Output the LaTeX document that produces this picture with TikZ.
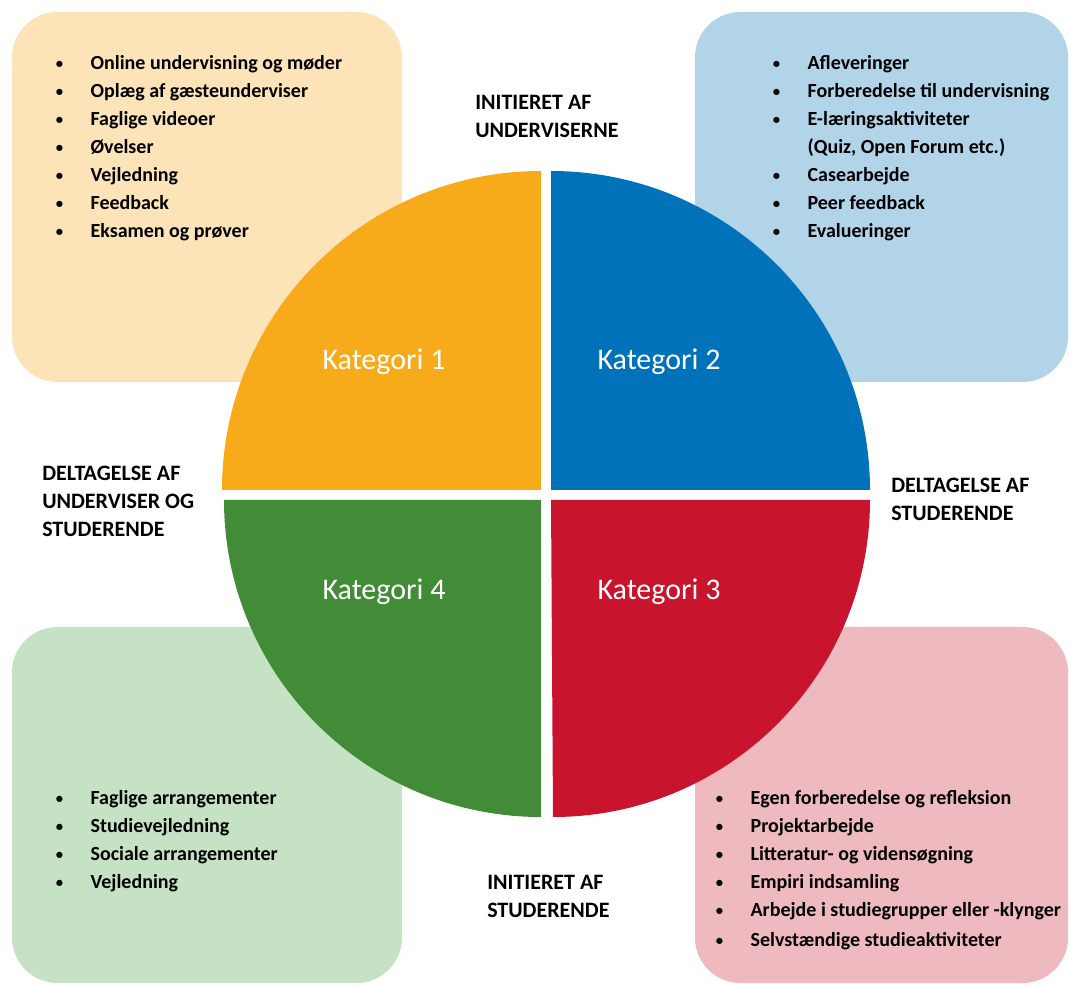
\documentclass[tikz,border=0pt]{standalone}
\usepackage{fontspec}
\setmainfont{Carlito}
\usepackage{tikz}
\usetikzlibrary{positioning}
\definecolor{OrangeLight}{HTML}{FCE4B8}
\definecolor{OrangeDark}{HTML}{F8AB1A}
\definecolor{BlueLight}{HTML}{B2D4E8}
\definecolor{BlueDark}{HTML}{0072BA}
\definecolor{RedLight}{HTML}{EEB9BF}
\definecolor{RedDark}{HTML}{C8142C}
\definecolor{GreenLight}{HTML}{C5E3C4}
\definecolor{GreenDark}{HTML}{428C37}
\tikzstyle{panel} = [rounded corners=34pt]
\tikzstyle{heading} = [anchor=north west, inner sep=0pt, align=left,
font=\fontsize{16.5}{21}\selectfont\bfseries]
\tikzstyle{category} = [anchor=base, text=white, inner sep=0pt, font=\fontsize{22.5}{26}\selectfont]
\tikzstyle{itemlist} = [anchor=north west, inner sep=0pt, align=left,
font=\fontsize{15}{21}\selectfont\bfseries]
\newcommand{\itm}{\makebox[26.5pt][l]{\hspace*{0.5pt}\raisebox{0.6pt}{\fontsize{11}{11}\selectfont\textbullet}}}
\newcommand{\cnt}{\hspace*{26.5pt}}

\begin{document}
\begin{tikzpicture}[x=0.75pt,y=0.75pt]
   \useasboundingbox (0,0) rectangle (1070,985);
   % corner panels
   \fill[panel,OrangeLight] (12,603) rectangle (402,973);
   \fill[panel,BlueLight] (695,603) rectangle (1068,973);
   \fill[panel,GreenLight] (12,2) rectangle (402,358);
   \fill[panel,RedLight] (695,2) rectangle (1068,358);
   % circle in four quarters
   \fill[OrangeDark] (541,495) -- (222,495) arc[start angle=180,end angle=90,radius=319] -- cycle;
   \fill[BlueDark] (551,495) -- (551,814) arc[start angle=90,end angle=0,radius=319] -- cycle;
   \fill[RedDark] (551,485) -- (870,485) arc[start angle=0,end angle=-90,radius=317] -- cycle;
   \fill[GreenDark] (541,485) -- (541,168) arc[start angle=-90,end angle=-180,radius=317] -- cycle;
   \node[category] (cat1) at (384,615) {Kategori 1};
   \node[category] (cat2) at (659,615) {Kategori 2};
   \node[category] (cat3) at (659,385) {Kategori 3};
   \node[category] (cat4) at (384,385) {Kategori 4};
   % axis labels
   \node[heading] (teachers) at (475,890) {INITIERET AF\\UNDERVISERNE};
   \node[heading] (students) at (487,110) {INITIERET AF\\STUDERENDE};
   \node[heading] (both) at (42,519) {DELTAGELSE AF\\UNDERVISER OG\\STUDERENDE};
   \node[heading] (studpart) at (891,507) {DELTAGELSE AF\\STUDERENDE};
   % lists
   \node[itemlist] (list1) at (55,930) {\itm Online undervisning og møder\\
    \itm Oplæg af gæsteunderviser\\ \itm Faglige videoer\\ \itm Øvelser\\
    \itm Vejledning\\ \itm Feedback\\ \itm Eksamen og prøver};
   \node[itemlist] (list2) at (772,930) {\itm Afleveringer\\
    \itm Forberedelse til undervisning\\ \itm E-læringsaktiviteter\\
    \cnt (Quiz, Open Forum etc.)\\ \itm Casearbejde\\ \itm Peer feedback\\
    \itm Evalueringer};
   \node[itemlist] (list3) at (715,195) {\itm Egen forberedelse og refleksion\\
    \itm Projektarbejde\\ \itm Litteratur- og vidensøgning\\
    \itm Empiri indsamling\\ \itm Arbejde i studiegrupper eller -klynger\\[1.5pt]
    \itm Selvstændige studieaktiviteter};
   \node[itemlist] (list4) at (55,195) {\itm Faglige arrangementer\\
    \itm Studievejledning\\ \itm Sociale arrangementer\\ \itm Vejledning};
  \end{tikzpicture}
\end{document}
